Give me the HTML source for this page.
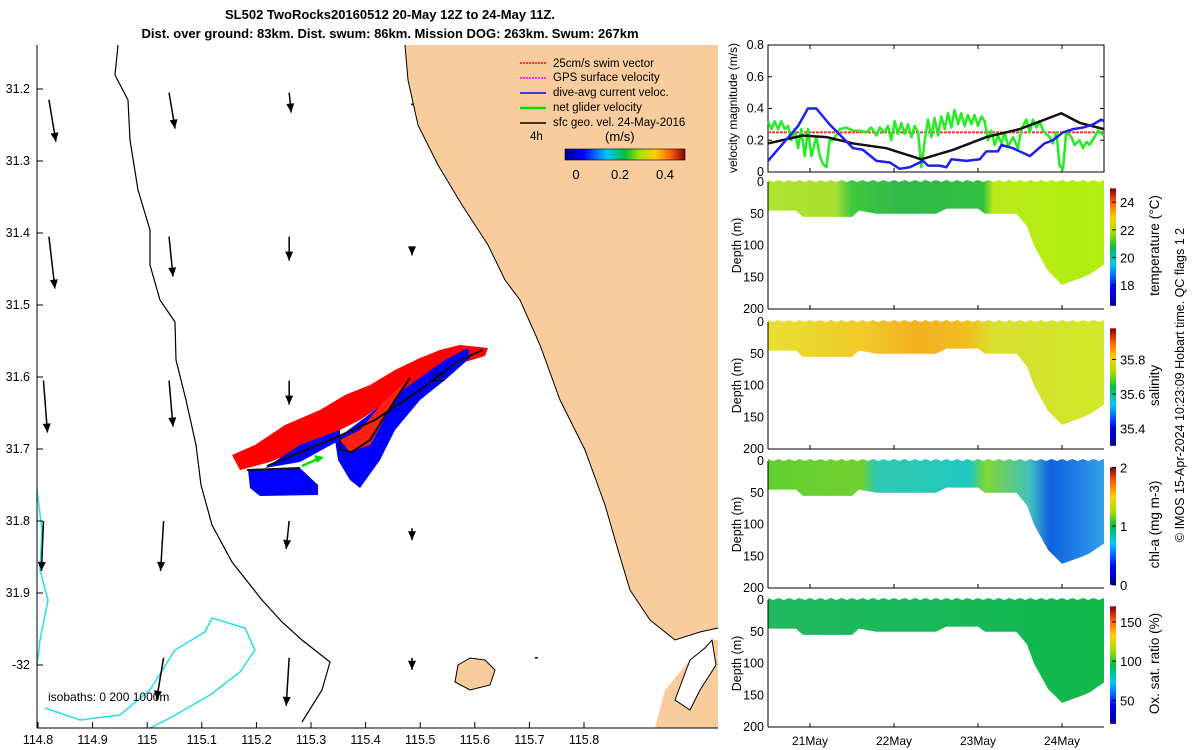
<!DOCTYPE html>
<html><head><meta charset="utf-8"><style>
body{margin:0;background:#fff}
svg{display:block;font-family:"Liberation Sans","DejaVu Sans",sans-serif}
</style></head><body>
<svg id="c" width="1200" height="750" viewBox="0 0 1200 750" xmlns="http://www.w3.org/2000/svg">
<defs>
<linearGradient id="jetV" x1="0" y1="1" x2="0" y2="0">
<stop offset="0" stop-color="#00008f"/><stop offset="0.15" stop-color="#0000ff"/><stop offset="0.35" stop-color="#00c8ff"/><stop offset="0.5" stop-color="#00c040"/><stop offset="0.62" stop-color="#a0e000"/><stop offset="0.75" stop-color="#ffd000"/><stop offset="0.88" stop-color="#ff6000"/><stop offset="1" stop-color="#800000"/></linearGradient>
<linearGradient id="jetH" x1="0" y1="0" x2="1" y2="0">
<stop offset="0" stop-color="#00008f"/><stop offset="0.15" stop-color="#0000ff"/><stop offset="0.35" stop-color="#00c8ff"/><stop offset="0.5" stop-color="#00c040"/><stop offset="0.62" stop-color="#a0e000"/><stop offset="0.75" stop-color="#ffd000"/><stop offset="0.88" stop-color="#ff6000"/><stop offset="1" stop-color="#800000"/></linearGradient>
<linearGradient id="gT" x1="0" y1="0" x2="1" y2="0">
<stop offset="0" stop-color="#b0e430"/><stop offset="0.2" stop-color="#a8e030"/><stop offset="0.25" stop-color="#40c840"/><stop offset="0.4" stop-color="#30b848"/><stop offset="0.64" stop-color="#30c040"/><stop offset="0.67" stop-color="#b8ea18"/><stop offset="1" stop-color="#b0ee10"/></linearGradient>
<linearGradient id="gS" x1="0" y1="0" x2="1" y2="0">
<stop offset="0" stop-color="#e8e030"/><stop offset="0.3" stop-color="#f0c828"/><stop offset="0.45" stop-color="#f4b020"/><stop offset="0.6" stop-color="#f0c020"/><stop offset="0.67" stop-color="#d8e030"/><stop offset="1" stop-color="#d0e828"/></linearGradient>
<linearGradient id="gC" x1="0" y1="0" x2="1" y2="0">
<stop offset="0" stop-color="#60d030"/><stop offset="0.28" stop-color="#70d030"/><stop offset="0.32" stop-color="#30c8b0"/><stop offset="0.6" stop-color="#20c8c0"/><stop offset="0.65" stop-color="#80d830"/><stop offset="0.78" stop-color="#40c0c0"/><stop offset="0.84" stop-color="#1060e0"/><stop offset="1" stop-color="#30a0e8"/></linearGradient>
<linearGradient id="gO" x1="0" y1="0" x2="1" y2="0">
<stop offset="0" stop-color="#20b860"/><stop offset="0.6" stop-color="#18b858"/><stop offset="1" stop-color="#10b848"/></linearGradient>
</defs>

<!-- Title -->
<text x="390" y="19" text-anchor="middle" font-size="13" font-weight="bold">SL502 TwoRocks20160512 20-May 12Z to 24-May 11Z.</text>
<text x="390" y="38" text-anchor="middle" font-size="13" font-weight="bold">Dist. over ground: 83km. Dist. swum: 86km. Mission DOG: 263km. Swum: 267km</text>

<!-- Map -->
<g id="map">
<rect x="37" y="45" width="681" height="683" fill="#fff"/>
<path fill="#f9cc9d" d="M405,45 L408,80 L418,125 L438,165 L462,205 L488,245 L505,280 L520,300 L540,345 L560,400 L585,450 L605,505 L618,550 L630,590 L650,620 L675,640 L700,632 L718,628 L718,45 Z"/>
<path fill="#f9cc9d" d="M655,728 L665,690 L690,660 L712,640 L718,640 L718,728 Z"/>
<path fill="#fff" stroke="#000" stroke-width="1" d="M690,660 L705,648 L712,640 L716,665 L700,690 L690,710 L675,700 Z"/>
<path fill="#f9cc9d" stroke="#000" stroke-width="1" d="M458,665 L470,658 L485,660 L495,670 L490,685 L470,690 L455,682 Z"/>
<path fill="none" stroke="#000" stroke-width="1" d="M405,45 L408,80 L418,125 L438,165 L462,205 L488,245 L505,280 L520,300 L540,345 L560,400 L585,450 L605,505 L618,550 L630,590 L650,620 L675,640 L700,632 L718,628"/>
<path fill="none" stroke="#000" stroke-width="1.2" d="M118,45 L115,75 L128,100 L130,140 L138,190 L150,230 L150,265 L160,300 L175,322 L176,360 L186,400 L196,445 L201,485 L212,525 L232,562 L262,600 L282,622 L302,640 L330,662 L322,690 L302,722"/>
<path fill="none" stroke="#22e0e8" stroke-width="1.5" d="M37,490 L42,530 L40,570 L48,600 L40,640 L37,665 M45,708 L80,720 L120,715 L150,690 L175,650 L205,632 L212,618 L245,628 L255,650 L240,672 L210,695 L170,718 L150,728"/>
<g id="arrows"></g>
<!-- track -->
<path fill="#ff0000" d="M232,455 L255,445 L285,425 L320,410 L345,395 L370,385 L395,370 L420,358 L440,350 L460,345 L488,348 L485,356 L465,362 L448,370 L420,385 L390,400 L360,420 L330,435 L300,450 L270,462 L240,470 Z"/>
<path fill="#0000ff" d="M248,470 L300,468 L318,485 L318,495 L260,496 L250,488 Z M335,440 L375,410 L410,385 L445,360 L468,348 L470,358 L445,380 L420,400 L395,430 L380,460 L360,488 L350,480 L338,460 Z M265,468 L300,445 L340,430 L340,440 L300,462 Z"/>
<path fill="#ff2010" d="M340,440 L350,452 L370,445 L395,400 L405,382 L385,400 L360,430 Z"/>
<path fill="none" stroke="#111" stroke-width="2" d="M247,470 L300,468 M267,466 L330,440 L375,420 L420,390 L460,360 L483,350 M340,435 L340,450 L352,452 L370,440 L395,400 L410,378"/>
<text x="432" y="381" font-size="12">22</text>
<line x1="302" y1="466" x2="320" y2="458" stroke="#00e000" stroke-width="2.5"/>
<polygon points="324,457 314,455 317,463" fill="#00e000"/>
<!-- legend -->
<g font-size="11.5">
<line x1="520" y1="63" x2="546" y2="63" stroke="#ff0000" stroke-width="1.5" stroke-dasharray="2,1"/><text x="553" y="67">25cm/s swim vector</text>
<line x1="520" y1="78" x2="546" y2="78" stroke="#ff00ff" stroke-width="1.5" stroke-dasharray="2,1"/><text x="553" y="81">GPS surface velocity</text>
<line x1="520" y1="93" x2="546" y2="93" stroke="#0000ff" stroke-width="1.5"/><text x="553" y="96">dive-avg current veloc.</text>
<line x1="520" y1="108" x2="546" y2="108" stroke="#00e000" stroke-width="2.5"/><text x="553" y="111">net glider velocity</text>
<line x1="520" y1="123" x2="546" y2="123" stroke="#000" stroke-width="1.5"/><text x="553" y="126">sfc geo. vel. 24-May-2016</text>
<text x="530" y="140">4h</text>
</g>
<text x="605" y="141" font-size="13">(m/s)</text>
<rect x="565" y="149" width="120" height="11" fill="url(#jetH)" stroke="#000" stroke-width="0.6"/>
<g font-size="13" text-anchor="middle"><text x="576" y="179">0</text><text x="620" y="179">0.2</text><text x="665" y="179">0.4</text></g>
<text x="48" y="701" font-size="12">isobaths: 0   200  1000m</text>
<line x1="37" y1="45" x2="37" y2="728" stroke="#000"/>
<line x1="37" y1="728" x2="718" y2="728" stroke="#000"/>
<g id="mapticks" font-size="12.5"></g>
</g>

<!-- right panels -->
<g id="vel"></g>
<g id="sect"></g>
<text transform="translate(1184,385) rotate(-90)" text-anchor="middle" font-size="12.5">© IMOS 15-Apr-2024 10:23:09 Hobart time. QC flags 1  2</text>
</svg>
<script>
const NS="http://www.w3.org/2000/svg";
function mk(p,t,a){const e=document.createElementNS(NS,t);for(const k in a)e.setAttribute(k,a[k]);p.appendChild(e);return e;}
// ---- map ticks
const lonTicks=[114.8,114.9,115,115.1,115.2,115.3,115.4,115.5,115.6,115.7,115.8];
const latTicks=[31.2,31.3,31.4,31.5,31.6,31.7,31.8,31.9,32];
const latLabels=["31.2","31.3","31.4","31.5","31.6","31.7","31.8","31.9","-32"];
const lonX=v=>38+(v-114.8)*546;
const latY=v=>89+(v-31.2)*720;
const mt=document.getElementById('mapticks');
lonTicks.forEach(v=>{const x=lonX(v);
 const l=mk(mt,'line',{x1:x,y1:728,x2:x,y2:722,stroke:'#000'});
 
 const t=mk(mt,'text',{x:x,y:744,'text-anchor':'middle'});t.textContent=String(v);
 });
latTicks.forEach((v,i)=>{const y=latY(v);
 mk(mt,'line',{x1:37,y1:y,x2:43,y2:y,stroke:'#000'});
 const t=mk(mt,'text',{x:30,y:y+4,'text-anchor':'end'});t.textContent=latLabels[i];
 });
// ---- geostrophic arrows (lon, lat, u-px, v-px)
const arrLon=[114.82,115.04,115.26,115.485,114.82,115.04,115.26,115.485,114.81,115.04,115.26,115.485,114.81,115.03,115.26,115.485,115.03,115.26,115.485,115.71];
const arrLat=[31.215,31.205,31.205,31.22,31.405,31.405,31.405,31.42,31.605,31.605,31.605,31.62,31.8,31.8,31.8,31.81,31.99,31.99,31.99,31.99];
const arrU=[7,6,2,0,6,4,0,0,4,4,0,0,-2,-3,-3,0,-7,-3,0,3];
const arrV=[42,36,20,2,52,40,24,8,52,46,24,6,50,50,28,12,42,48,12,0];
const ag=document.getElementById('arrows');
arrLon.forEach((lo,i)=>{const x=lonX(lo),y=latY(arrLat[i]),x2=x+arrU[i],y2=y+arrV[i];
 const g=mk(ag,'g',{});
 
 mk(g,'line',{x1:x,y1:y,x2:x2,y2:y2,stroke:'#000','stroke-width':1.5});
 const L=Math.hypot(arrU[i],arrV[i]);if(L>5){const ux=arrU[i]/L,uy=arrV[i]/L;
 mk(g,'polygon',{points:`${x2},${y2} ${x2-ux*9-uy*4},${y2-uy*9+ux*4} ${x2-ux*9+uy*4},${y2-uy*9-ux*4}`,fill:'#000'});}});
// ---- velocity panel
const velHours=[0,96];
const swimVal=[0.25,0.25];
const blueT=[0,8.6,11.4,13.8,17.6,24.3,27.1,31,34.8,37.6,40.5,44.3,45.7,49,51,52.4,56.7,60.5,62.4,65.7,66.7,70,74.8,79,81.4,84.3,87.1,90,92.9,95.2,96];
const blueV=[0.07,0.29,0.4,0.4,0.3,0.15,0.14,0.07,0.06,0.02,0.03,0.07,0.04,0.04,0.03,0.08,0.07,0.08,0.13,0.13,0.17,0.15,0.1,0.18,0.2,0.25,0.27,0.28,0.3,0.33,0.32];
const blackT=[0,10,16.7,24.3,33.8,43.8,52.9,62.4,71.9,83.8,89,96];
const blackV=[0.18,0.23,0.22,0.18,0.15,0.08,0.14,0.22,0.27,0.37,0.31,0.27];
const greenT=[0,1,1.9,2.9,3.8,4.8,5.7,6.7,7.6,8.6,9.5,10.5,11.4,12.4,13.8,14.8,15.7,16.7,17.6,18.6,20.5,22.4,24.3,26.2,28.1,29.5,31,31.9,33.3,34.3,35.2,36.2,37.1,38.1,39,40,41,41.9,42.9,43.8,44.8,45.7,46.7,47.6,48.6,49.5,50.5,51.4,52.4,53.3,54.3,55.2,56.2,57.1,58.1,59,60,61,61.9,62.9,63.8,64.8,65.7,66.7,67.6,68.6,70,71.4,72.4,73.8,74.8,75.7,76.7,77.6,78.6,79.5,80.5,81.4,82.4,83.3,84.3,85.2,86.7,87.6,89,90,91,91.9,93.3,94.3,96];
const greenV=[0.32,0.27,0.32,0.27,0.32,0.27,0.29,0.2,0.27,0.15,0.27,0.1,0.27,0.1,0.22,0.1,0.05,0.03,0.2,0.2,0.27,0.28,0.26,0.26,0.25,0.28,0.23,0.28,0.25,0.29,0.2,0.32,0.24,0.31,0.24,0.3,0.22,0.29,0.25,0.03,0.2,0.33,0.22,0.34,0.23,0.35,0.27,0.37,0.28,0.39,0.3,0.37,0.29,0.36,0.3,0.36,0.29,0.35,0.32,0.2,0.26,0.17,0.23,0.18,0.25,0.16,0.22,0.15,0.27,0.33,0.25,0.33,0.28,0.32,0.26,0.24,0.22,0.18,0.25,0.04,0.02,0.25,0.22,0.17,0.2,0.15,0.19,0.17,0.22,0.26,0.23];
const velTicks=[0,0.2,0.4,0.6,0.8];
const velTickLabels=["0","0.2","0.4","0.6","0.8"];
const dayTicks=[12,36,60,84];
const dayLabels=["21May","22May","23May","24May"];
const X0=768,X1=1104;
const tx=h=>X0+h*(X1-X0)/96;
const vy=v=>172-v*127/0.8;
const vg=document.getElementById('vel');
mk(vg,'rect',{x:X0,y:45,width:X1-X0,height:127,fill:'#fff',stroke:'#000','stroke-width':1});
velTicks.forEach((v,i)=>{const y=vy(v);
 mk(vg,'line',{x1:X0,y1:y,x2:X0+4,y2:y,stroke:'#000'});mk(vg,'line',{x1:X1,y1:y,x2:X1-4,y2:y,stroke:'#000'});
 const t=mk(vg,'text',{x:X0-4,y:y+4,'text-anchor':'end','font-size':12.5});t.textContent=velTickLabels[i];
 });
dayTicks.forEach(h=>{mk(vg,'line',{x1:tx(h),y1:172,x2:tx(h),y2:168,stroke:'#000'});mk(vg,'line',{x1:tx(h),y1:45,x2:tx(h),y2:49,stroke:'#000'});});
function line(T,V,col,w,name,dash){const p=mk(vg,'polyline',{points:T.map((t,i)=>tx(t)+','+vy(V[i])).join(' '),fill:'none',stroke:col,'stroke-width':w,'stroke-linejoin':'round'});
 if(dash)p.setAttribute('stroke-dasharray',dash);
 }
line(velHours,swimVal,'#ff3030',2,'swim-speed-line','3,1');
line(greenT,greenV,'#22ee22',2.5,'net-glider-speed-line');
line(blackT,blackV,'#111',2.5,'geostrophic-speed-line');
line(blueT,blueV,'#2020ee',2.5,'depth-avg-current-line');
const vt=mk(vg,'text',{transform:'translate(737,108) rotate(-90)','text-anchor':'middle','font-size':12});vt.textContent='velocity magnitude (m/s)';

// ---- sections
const shapeT=[0,8,10,12,24,26,31,48,51,60,62,71,74,76,80,84,90,92,96];
const shapeD=[45,45,55,55,55,45,50,50,42,42,50,50,70,100,140,162,150,145,130];
const depthTicks=[0,50,100,150,200];
const panels=[
 {top:182,grad:'gT',title:'temperature (°C)',cbTicks:[18,20,22,24],cbMin:16.5,cbMax:25,name:'temperature'},
 {top:322,grad:'gS',title:'salinity',cbTicks:[35.4,35.6,35.8],cbMin:35.3,cbMax:35.98,name:'salinity'},
 {top:461,grad:'gC',title:'chl-a (mg m-3)',cbTicks:[0,1,2],cbMin:0,cbMax:2,name:'chlorophyll'},
 {top:600,grad:'gO',title:'Ox. sat. ratio (%)',cbTicks:[50,100,150],cbMin:20,cbMax:170,name:'oxygen'}];
const sg=document.getElementById('sect');
panels.forEach((P,pi)=>{const g=mk(sg,'g',{});
 
 const dy=d=>P.top+d*127/200;
 let pts=[];for(let h=0;h<=96;h+=1.5)pts.push(tx(h)+','+(dy(0)-(h%3==0?2:0)));
 for(let i=shapeT.length-1;i>=0;i--)pts.push(tx(shapeT[i])+','+dy(shapeD[i]));
 const poly=mk(g,'polygon',{points:pts.join(' '),fill:'url(#'+P.grad+')'});
 
 mk(g,'line',{x1:X0,y1:dy(200),x2:X1,y2:dy(200),stroke:'#000'});
 mk(g,'line',{x1:X0,y1:dy(0),x2:X0,y2:dy(200),stroke:'#000'});
 depthTicks.forEach(d=>{const t=mk(g,'text',{x:X0-4,y:dy(d)+4,'text-anchor':'end','font-size':12.5});t.textContent=d;
  });
 dayTicks.forEach((h,i)=>{mk(g,'line',{x1:tx(h),y1:dy(200),x2:tx(h),y2:dy(200)-4,stroke:'#000'});
  if(pi==3){const t=mk(g,'text',{x:tx(h),y:745,'text-anchor':'middle','font-size':12});t.textContent=dayLabels[i];
  }});
 const yt=mk(g,'text',{transform:`translate(741,${dy(100)}) rotate(-90)`,'text-anchor':'middle','font-size':12.5});yt.textContent='Depth (m)';
 
 const cy0=dy(10),cy1=dy(195);
 const cb=mk(g,'rect',{x:1110,y:cy0,width:6,height:cy1-cy0,fill:'url(#jetV)'});
 
 P.cbTicks.forEach(v=>{const y=cy1-(v-P.cbMin)/(P.cbMax-P.cbMin)*(cy1-cy0);
  mk(g,'line',{x1:1116,y1:y,x2:1112,y2:y,stroke:'#000'});
  const t=mk(g,'text',{x:1120,y:y+5,'font-size':13});t.textContent=String(v);
  });
 const ct=mk(g,'text',{transform:`translate(1159,${dy(100)}) rotate(-90)`,'text-anchor':'middle','font-size':13.5});ct.textContent=P.title;
 
});
</script>
</body></html>
